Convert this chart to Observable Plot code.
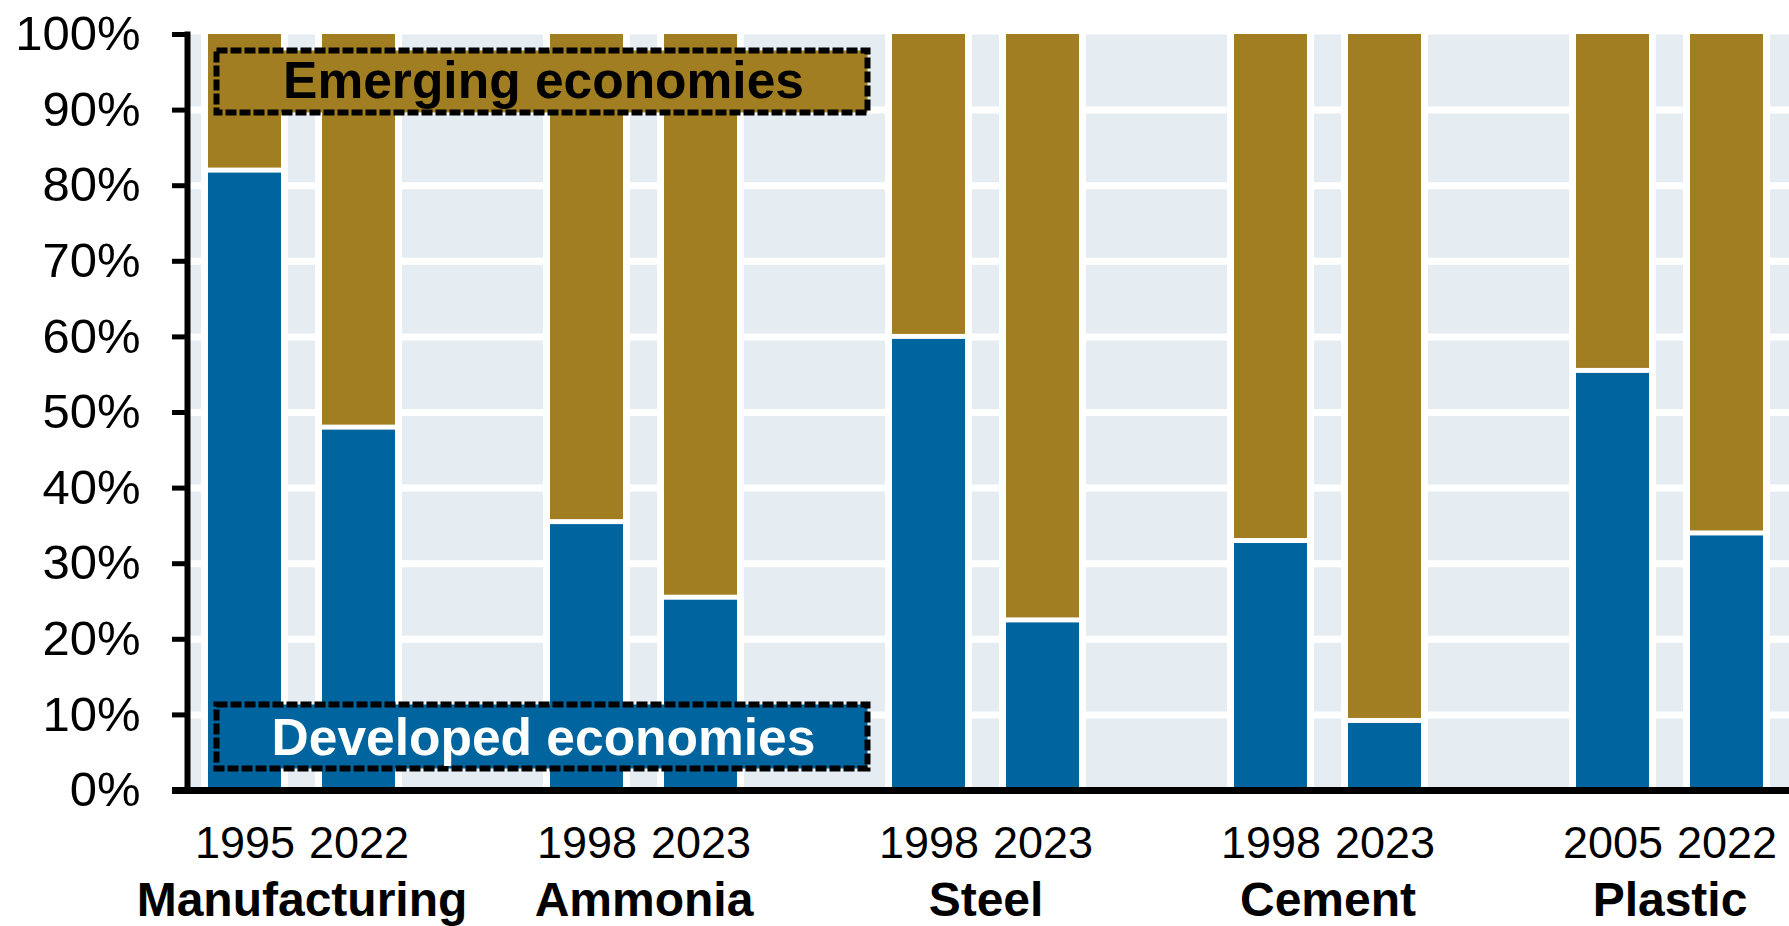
<!DOCTYPE html>
<html>
<head>
<meta charset="utf-8">
<script src="https://cdn.jsdelivr.net/npm/d3@7"></script>
<script src="https://cdn.jsdelivr.net/npm/@observablehq/plot@0.6"></script>
<style>
  html, body { margin: 0; padding: 0; background: #ffffff; }
  #chart svg { display: block; }
</style>
</head>
<body>
<div id="chart"></div>
<script>
// ---- Data ----
const sectors = ["Manufacturing", "Ammonia", "Steel", "Cement", "Plastic"];
const startYears = ["1995", "1998", "1998", "1998", "2005"];
const endYears = ["2022", "2023", "2023", "2023", "2022"];
// share of developed economies (%); emerging = 100 - developed
const developedStart = [82, 35.5, 60, 33, 55.5];
const developedEnd = [48, 25.5, 22.5, 9.2, 34];
const yTicks = [0, 10, 20, 30, 40, 50, 60, 70, 80, 90, 100];
const seriesNames = ["Developed economies", "Emerging economies"];
const seriesColors = ["#00659E", "#A27E22"];
const backgroundColor = "#E5EDF2";

// ---- Build table ----
const rows = [];
const xDomain = [];
sectors.forEach((s, i) => {
  [[startYears[i], developedStart[i]], [endYears[i], developedEnd[i]]].forEach(([yr, v]) => {
    const key = s + " " + yr;
    rows.push({sector: s, year: yr, key, developed: v});
    xDomain.push(key);
  });
  if (i < sectors.length - 1) xDomain.push("gap" + i);
});
const yearOf = new Map(rows.map(r => [r.key, r.year]));
const groupLabels = sectors.map((s, i) => ({sector: s, key: s + " " + startYears[i]}));

const chart = Plot.plot({
  width: 1789,
  height: 926,
  marginTop: 34,
  marginBottom: 136,
  marginLeft: 187,
  marginRight: 0,
  style: {fontFamily: "Arial, 'Liberation Sans', sans-serif", background: "#ffffff", color: "#000000", overflow: "visible"},
  x: {domain: xDomain, paddingInner: 0.36, paddingOuter: 0.18, insetRight: 6, axis: null},
  y: {domain: [0, 100], axis: null},
  marks: [
    Plot.frame({fill: backgroundColor, stroke: "none"}),
    Plot.gridY(yTicks.filter(t => t > 0 && t < 100), {stroke: "#ffffff", strokeOpacity: 1, strokeWidth: 7}),
    Plot.barY(rows, {x: "key", y1: 0, y2: 100, fill: "#ffffff", insetLeft: -7, insetRight: -7}),
    Plot.barY(rows, {x: "key", y1: 0, y2: "developed", fill: seriesColors[0], insetTop: 2.5}),
    Plot.barY(rows, {x: "key", y1: "developed", y2: 100, fill: seriesColors[1], insetBottom: 2.5}),
    // legend boxes
    Plot.frame({fill: seriesColors[1], stroke: "#000000", strokeWidth: 6, strokeDasharray: "11,3",
      insetLeft: 29, insetRight: 922, insetTop: 16, insetBottom: 678}),
    Plot.text([seriesNames[1]], {text: d => d, frameAnchor: "top-left", textAnchor: "middle", lineAnchor: "middle",
      dx: 356, dy: 47, fontSize: 51.5, fontWeight: "bold", fill: "#000000"}),
    Plot.frame({fill: seriesColors[0], stroke: "#000000", strokeWidth: 6, strokeDasharray: "11,3",
      insetLeft: 29, insetRight: 922, insetTop: 670, insetBottom: 22}),
    Plot.text([seriesNames[0]], {text: d => d, frameAnchor: "bottom-left", textAnchor: "middle", lineAnchor: "middle",
      dx: 356, dy: -52, fontSize: 51.5, fontWeight: "bold", fill: "#ffffff"}),
    // axes
    Plot.frame({anchor: "left", stroke: "#000000", strokeWidth: 6}),
    Plot.ruleY([0], {stroke: "#000000", strokeWidth: 7, insetLeft: -15}),
    Plot.axisY(yTicks, {anchor: "left", tickSize: 15, tickPadding: 32, strokeWidth: 5, fontSize: 49,
      tickFormat: d => d + "%", label: null}),
    Plot.axisX({anchor: "bottom", tickSize: 0, tickPadding: 35.5, fontSize: 45,
      tickFormat: k => yearOf.get(k) ?? "", label: null}),
    Plot.text(groupLabels, {x: "key", text: "sector", frameAnchor: "bottom", lineAnchor: "bottom",
      dx: 57, dy: 125, fontSize: 48, fontWeight: "bold", fill: "#000000"})
  ]
});
document.getElementById("chart").appendChild(chart);
</script>
</body>
</html>
